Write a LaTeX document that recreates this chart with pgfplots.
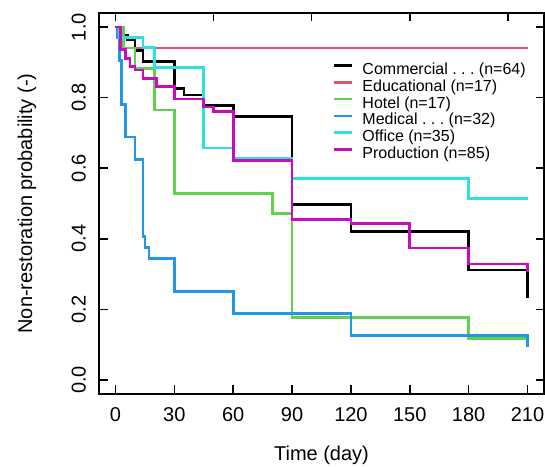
\documentclass[border=0pt]{standalone}
\usepackage{pgfplots}
\pgfplotsset{compat=1.18}
\usepackage{fontspec}
\setmainfont{Liberation Sans}
\frenchspacing
\newcommand{\dsp}{\kern0.278em}
\definecolor{rblack}{HTML}{000000}
\definecolor{rred}{HTML}{DF536B}
\definecolor{rgreen}{HTML}{61D04F}
\definecolor{rblue}{HTML}{2297E6}
\definecolor{rcyan}{HTML}{28E2E5}
\definecolor{rmag}{HTML}{CD0BBC}
\pgfplotsset{mybase/.style={scale only axis, width=445pt, height=381pt,
  xmin=-8.4, xmax=218.4, ymin=-0.04, ymax=1.04,
  tick align=inside, major tick length=8.5pt,
  axis line style={line width=1.5pt},
  every tick/.style={line width=1.5pt, black},
  /pgf/number format/assume math mode=true,
  tick label style={font=\fontsize{20}{24}\selectfont}}}
\begin{document}
\begin{tikzpicture}
\begin{axis}[mybase, no markers,
  xtick={0,30,60,90,120,150,180,210}, xtick pos=left,
  ytick={0,0.2,0.4,0.6,0.8,1}, ytick pos=both,
  yticklabels={0.0,0.2,0.4,0.6,0.8,1.0},
  yticklabel style={rotate=90, anchor=south, inner sep=0pt},
  yticklabel shift=13pt,
  xticklabel style={anchor=north, inner sep=0pt},
  xticklabel shift=13pt,
  xlabel={Time (day)}, ylabel={Non-restoration probability (-)},
  label style={font=\fontsize{20}{24}\selectfont},
  xlabel style={at={(axis description cs:0.5,-0.16)}, anchor=center},
  ylabel style={at={(axis description cs:-0.162,0.5)}, anchor=center},
  legend style={at={(axis cs:110.8,0.898)}, anchor=north west, draw=none, fill=none,
    inner sep=0pt, outer sep=0pt, font=\fontsize{16}{16}\selectfont, row sep=0pt,
    column sep=9pt,
    nodes={inner sep=0pt, text height=11.7pt, text depth=5pt}},
  legend cell align=left,
  legend image code/.code={\draw[#1, line width=2.6pt] (0pt,5.7pt) -- (18pt,5.7pt);},
  every axis plot/.append style={line width=2.6pt, const plot},
]
\addplot[rblack] coordinates {(0,1) (2,0.985) (3.5,0.976) (6,0.964) (10,0.934) (14,0.903) (30,0.826) (35,0.808) (45,0.777) (60,0.746) (90,0.497) (120,0.42) (180,0.312) (210,0.232)};
\addlegendentry{Commercial\dsp.\dsp.\dsp.\dsp(n=64)}
\addplot[rred] coordinates {(0,1) (3,0.941) (210,0.941)};
\addlegendentry{Educational (n=17)}
\addplot[rgreen] coordinates {(0,1) (4,0.941) (10,0.882) (20,0.765) (30,0.529) (80,0.471) (90,0.176) (180,0.118) (210,0.118)};
\addlegendentry{Hotel (n=17)}
\addplot[rblue] coordinates {(0,1) (1,0.969) (2,0.906) (3,0.781) (5,0.688) (10,0.625) (14,0.406) (15,0.375) (17,0.344) (30,0.25) (60,0.188) (120,0.125) (210,0.094)};
\addlegendentry{Medical\dsp.\dsp.\dsp.\dsp(n=32)}
\addplot[rcyan] coordinates {(0,1) (2,0.971) (14,0.943) (20,0.886) (45,0.657) (60,0.629) (90,0.571) (180,0.514) (210,0.514)};
\addlegendentry{Office (n=35)}
\addplot[rmag] coordinates {(0,1) (2.5,0.936) (5,0.911) (7.5,0.889) (10,0.878) (14,0.854) (21,0.831) (30,0.796) (45,0.773) (50,0.76) (60,0.622) (90,0.455) (120,0.444) (150,0.374) (180,0.329) (210,0.305)};
\addlegendentry{Production (n=85)}
\coordinate (sw) at (rel axis cs:0,0);
\coordinate (ne) at (rel axis cs:1,1);
\end{axis}
\begin{axis}[mybase, xtick={0,50,100,150,200}, xtick pos=right, xticklabels={}, ytick=\empty]
\end{axis}
\pgfresetboundingbox
\path[use as bounding box] ([shift={(-99pt,-73pt)}]sw) rectangle ([shift={(1pt,13pt)}]ne);
\end{tikzpicture}
\end{document}
